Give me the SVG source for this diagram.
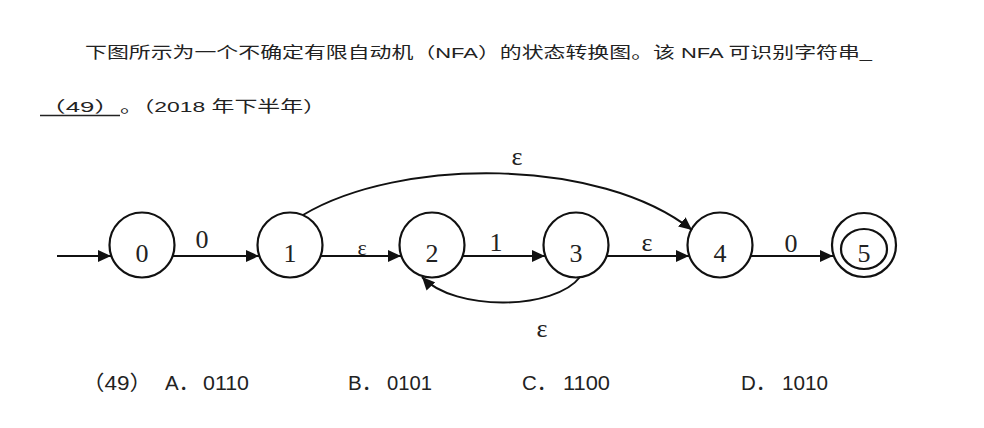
<svg xmlns="http://www.w3.org/2000/svg" width="984" height="428" viewBox="0 0 984 428">
<style>
.cn{font-family:"Liberation Sans","Noto Sans CJK SC",sans-serif;font-size:15.5px;fill:#222}
.opt{font-family:"Liberation Sans","Noto Sans CJK SC",sans-serif;font-size:20.5px;fill:#222}
.st{fill:none;stroke:#111;stroke-width:2.2}
.lbl{font-family:"Liberation Serif","DejaVu Serif",serif;font-size:26px;fill:#222;text-anchor:middle}
.edge{fill:none;stroke:#111;stroke-width:2;marker-end:url(#ah)}
</style>
<defs>
<marker id="ah" viewBox="0 0 13 12" refX="13" refY="6" markerWidth="13" markerHeight="12" markerUnits="userSpaceOnUse" orient="auto">
<path d="M0,0 L13,6 L0,12 Z" fill="#111"/>
</marker>
</defs>
<rect width="984" height="428" fill="#fff"/>
<text class="cn" x="85" y="58" textLength="787" lengthAdjust="spacingAndGlyphs">下图所示为一个不确定有限自动机（NFA）的状态转换图。该 NFA 可识别字符串_</text>
<text class="cn" x="40" y="112" textLength="80" lengthAdjust="spacingAndGlyphs">（49）</text>
<line x1="40" y1="115.5" x2="120" y2="115.5" stroke="#222" stroke-width="1.5"/>
<text class="cn" x="120" y="112" textLength="206" lengthAdjust="spacingAndGlyphs">。（2018 年下半年）</text>
<g id="connectors">
<path class="edge" d="M57,256 L111,256"/>
<path class="edge" d="M173,256 L259,256"/>
<path class="edge" d="M321,256 L401,256"/>
<path class="edge" d="M463,256 L545,256"/>
<path class="edge" d="M607,256 L689,256"/>
<path class="edge" d="M751,256 L833,256"/>
<path class="edge" d="M303,215 C400,157 600,157 692,230"/>
<path class="edge" d="M580,277 C555,310 455,312 422,277"/>
<text class="lbl" x="202" y="248">0</text>
<text class="lbl" x="362" y="255" style="font-size:22px">ε</text>
<text class="lbl" x="496" y="251">1</text>
<text class="lbl" x="647" y="251">ε</text>
<text class="lbl" x="791" y="252">0</text>
<text class="lbl" x="517" y="165">ε</text>
<text class="lbl" x="542" y="337">ε</text>
</g>
<g id="node0"><circle class="st" cx="142" cy="245" r="32.5"/><text class="lbl" x="142" y="262">0</text></g>
<g id="node1"><circle class="st" cx="290" cy="245" r="32.5"/><text class="lbl" x="290" y="262">1</text></g>
<g id="node2"><circle class="st" cx="432" cy="245" r="32.5"/><text class="lbl" x="432" y="262">2</text></g>
<g id="node3"><circle class="st" cx="576" cy="245" r="32.5"/><text class="lbl" x="576" y="262">3</text></g>
<g id="node4"><circle class="st" cx="720" cy="245" r="32.5"/><text class="lbl" x="720" y="262">4</text></g>
<g id="node5"><circle class="st" cx="864" cy="245" r="32"/><ellipse class="st" cx="864" cy="249" rx="23" ry="20"/><text class="lbl" x="864" y="262">5</text></g>
<g id="options">
<text class="opt" x="82" y="390" textLength="70" lengthAdjust="spacingAndGlyphs">（49）</text>
<text class="opt" x="165" y="390">A．</text><text class="opt" x="203" y="390" textLength="46" lengthAdjust="spacingAndGlyphs">0110</text>
<text class="opt" x="348" y="390">B．</text><text class="opt" x="387" y="390" textLength="45" lengthAdjust="spacingAndGlyphs">0101</text>
<text class="opt" x="522" y="390">C．</text><text class="opt" x="563" y="390" textLength="47" lengthAdjust="spacingAndGlyphs">1100</text>
<text class="opt" x="741" y="390">D．</text><text class="opt" x="782" y="390" textLength="46" lengthAdjust="spacingAndGlyphs">1010</text>
</g>
</svg>
